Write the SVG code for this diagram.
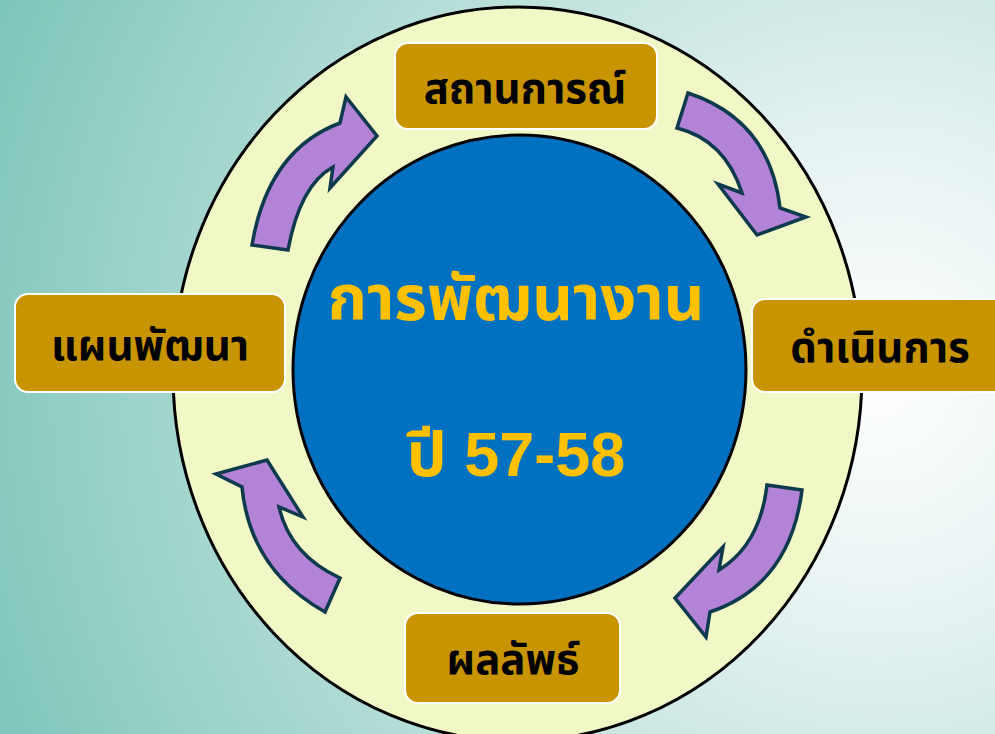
<svg xmlns="http://www.w3.org/2000/svg" width="995" height="734" viewBox="0 0 995 734">
<defs>
<radialGradient id="bg" cx="880" cy="380" r="950" gradientUnits="userSpaceOnUse">
<stop offset="0" stop-color="#ffffff"/>
<stop offset="0.25" stop-color="#e6f3f2"/>
<stop offset="1" stop-color="#7fc6ba"/>
</radialGradient>
<style>
.box{fill:#c89400;stroke:#ffffff;stroke-width:2}
.lbl{font-family:"Noto Sans Thai","Noto Sans","Liberation Sans",sans-serif;font-weight:bold;font-size:42px;fill:#000;text-anchor:middle}
.arr{fill:#b383d8;stroke:#0d3a4c;stroke-width:3.5;stroke-linejoin:miter}
.ctr{font-family:"Noto Sans Thai","Noto Sans","Liberation Sans",sans-serif;font-weight:bold;font-size:63px;fill:#ffc000;text-anchor:middle}
</style>
</defs>
<rect width="995" height="734" fill="url(#bg)"/>
<ellipse id="ring" cx="517.5" cy="374" rx="344.5" ry="367" fill="#f1f8c6" stroke="#000" stroke-width="3"/>
<g id="center">
<ellipse cx="519.5" cy="369.5" rx="226.5" ry="234.5" fill="#0070c0" stroke="#000" stroke-width="3"/>
<text class="ctr" x="516" y="320">การพัฒนางาน</text>
<text class="ctr" x="516" y="476" style="font-family:'Liberation Sans','Noto Sans Thai',sans-serif" font-size="64">ปี 57-58</text>
</g>
<g id="connectors">
<path class="arr" d="M252,245 Q268,150 340,123 L346,97 L377,136 L330,188 L333,167 Q300,185 288,250 Z"/>
<path class="arr" d="M688,93 Q770,120 780,208 L806,217 L757,235 L718,184 L742,193 Q725,140 677,128 Z"/>
<path class="arr" d="M802,490 Q790,585 710,612 L706,637 L675,598 L723,547 L719,570 Q760,545 767,485 Z"/>
<path class="arr" d="M325,612 Q250,570 242,487 L216,474 L267,460 L303,517 L279,507 Q290,555 340,578 Z"/>
</g>
<g id="n-top">
<rect class="box" x="395" y="43" width="262" height="86" rx="13"/>
<text class="lbl" x="525" y="103">สถานการณ์</text>
</g>
<g id="n-right">
<rect class="box" x="752" y="299" width="260" height="93" rx="13"/>
<text class="lbl" x="880" y="362">ดำเนินการ</text>
</g>
<g id="n-bottom">
<rect class="box" x="405" y="613" width="215" height="90" rx="13"/>
<text class="lbl" x="513" y="674">ผลลัพธ์</text>
</g>
<g id="n-left">
<rect class="box" x="15" y="294" width="270" height="98" rx="13"/>
<text class="lbl" x="150" y="360">แผนพัฒนา</text>
</g>
</svg>
